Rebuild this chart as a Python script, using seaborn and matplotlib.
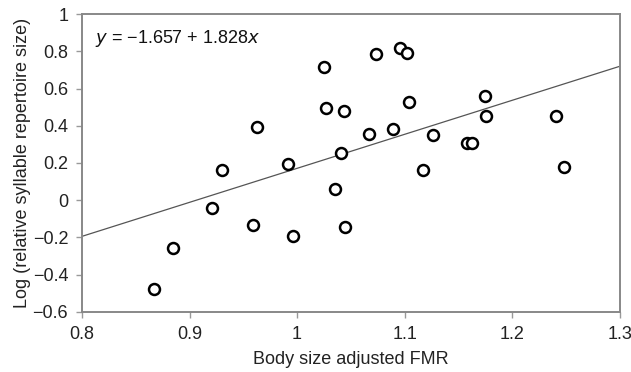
import numpy as np
import pandas as pd
import matplotlib
matplotlib.use("Agg")
import matplotlib.pyplot as plt
import seaborn as sns

# Values
fmr = [0.867, 0.885, 0.921, 0.930, 0.959, 0.963, 0.992, 0.996,
       1.025, 1.027, 1.035, 1.041, 1.044, 1.045, 1.067, 1.073,
       1.089, 1.096, 1.102, 1.104, 1.117, 1.126, 1.158, 1.163,
       1.175, 1.176, 1.241, 1.248]
log_rep = [-0.480, -0.260, -0.043, 0.161, -0.134, 0.391, 0.192, -0.194,
           0.717, 0.496, 0.059, 0.251, 0.480, -0.144, 0.355, 0.783,
           0.385, 0.816, 0.792, 0.525, 0.160, 0.351, 0.305, 0.305,
           0.559, 0.450, 0.450, 0.179]
intercept = -1.657
slope = 1.828
x_ticks = [0.8, 0.9, 1.0, 1.1, 1.2, 1.3]
x_labels = ["0.8", "0.9", "1", "1.1", "1.2", "1.3"]
y_ticks = [-0.6, -0.4, -0.2, 0, 0.2, 0.4, 0.6, 0.8, 1]
y_labels = ["\u22120.6", "\u22120.4", "\u22120.2", "0", "0.2", "0.4", "0.6", "0.8", "1"]

df = pd.DataFrame({"fmr": fmr, "rep": log_rep})
fit = pd.DataFrame({"fmr": [x_ticks[0], x_ticks[-1]]})
fit["rep"] = intercept + slope * fit["fmr"]

sns.set_style("white")
plt.rcParams["font.family"] = ["Liberation Sans", "DejaVu Sans"]

fig = plt.figure(figsize=(6.31, 3.72), dpi=100)
ax = fig.add_axes([0.130, 0.162, 0.852, 0.800])

sns.lineplot(data=fit, x="fmr", y="rep", ax=ax, color="#555555", linewidth=0.9)
sns.scatterplot(data=df, x="fmr", y="rep", ax=ax, marker="o", s=62,
                facecolor="white", edgecolor="black", linewidth=1.8, zorder=3)

ax.set_xlim(0.8, 1.3)
ax.set_ylim(-0.6, 1.0)
ax.set_xticks(x_ticks)
ax.set_xticklabels(x_labels)
ax.set_yticks(y_ticks)
ax.set_yticklabels(y_labels)
ax.tick_params(axis="both", labelsize=13, colors="#999999", labelcolor="#222222",
               length=4, width=1, direction="out", pad=6)
ax.tick_params(left=True, bottom=True)
for sp in ax.spines.values():
    sp.set_color("#888888")
    sp.set_linewidth(1.4)

ax.set_xlabel("Body size adjusted FMR", fontsize=13, color="#222222", labelpad=6)
ax.set_ylabel("Log (relative syllable repertoire size)", fontsize=13,
              color="#222222", labelpad=1)

ax.text(0.024, 0.955, "$\\mathit{y}$ = \u22121.657 + 1.828$\\mathit{x}$",
        transform=ax.transAxes, fontsize=13, color="#111111", va="top", ha="left")

fig.savefig("out.png", dpi=100)
